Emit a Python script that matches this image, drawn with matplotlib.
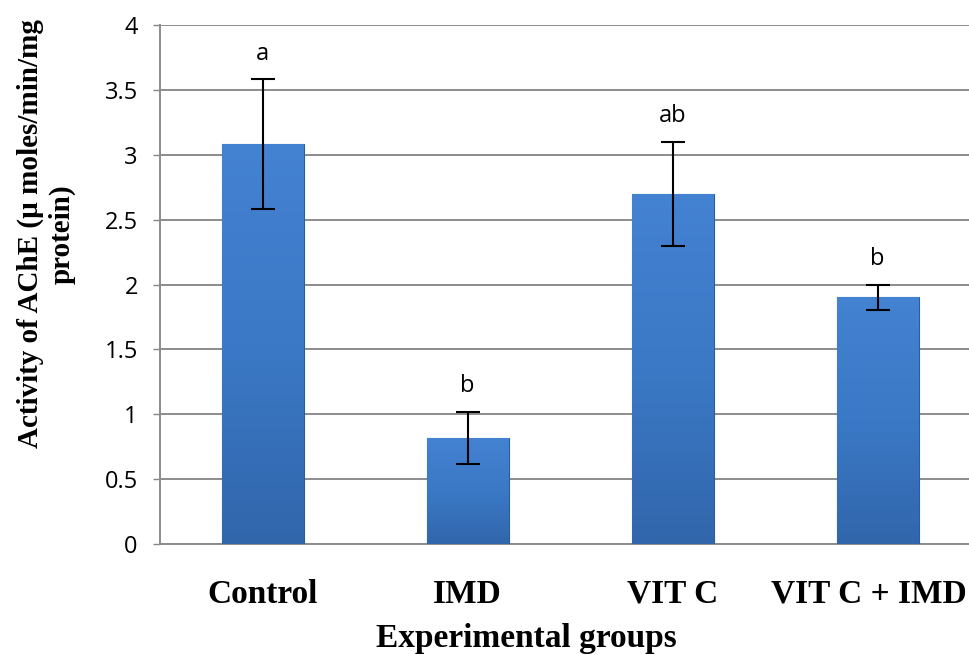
import numpy as np
import matplotlib
matplotlib.use('Agg')
import matplotlib.pyplot as plt
from matplotlib.colors import LinearSegmentedColormap
from matplotlib.transforms import ScaledTranslation

groups = ['Control', 'IMD', 'VIT C', 'VIT C + IMD']
ache = [3.08, 0.82, 2.70, 1.90]
ache_err = [0.50, 0.20, 0.40, 0.10]
letters = ['a', 'b', 'ab', 'b']

fig = plt.figure(figsize=(9.69, 6.55), dpi=100)
ax = fig.add_axes([160 / 969, 111 / 655, 820 / 969, 519 / 655])

x = np.arange(len(groups))
bars = ax.bar(x, ache, width=0.4, color='#3b78c4', edgecolor='#2c5c9a',
              linewidth=0.8, zorder=3)

# vertical gradient on each bar, clipped to the bar shape
cmap = LinearSegmentedColormap.from_list('bluegrad', ['#3166ab', '#3b79c6', '#4482d2'])
grad = np.linspace(0, 1, 256).reshape(-1, 1)
for b in bars:
    x0, y0 = b.get_x(), b.get_y()
    w, h = b.get_width(), b.get_height()
    im = ax.imshow(grad, cmap=cmap, origin='lower', aspect='auto',
                   extent=[x0, x0 + w, y0, y0 + h], zorder=3.5)
    im.set_clip_path(b)

ax.errorbar(x, ache, yerr=ache_err, fmt='none', ecolor='black', elinewidth=1.5,
            capsize=8.5, capthick=1.5, zorder=5)

for xi, v, e, lab in zip(x, ache, ache_err, letters):
    ax.annotate(lab, (xi, v + e), xytext=(0, 10), textcoords='offset points',
                ha='center', va='bottom', fontsize=17, family='Open Sans')

ax.set_xlim(-0.5, 3.5)
ax.set_ylim(0, 4)
ax.set_yticks(np.arange(0, 4.01, 0.5))
ax.set_yticklabels(['0', '0.5', '1', '1.5', '2', '2.5', '3', '3.5', '4'],
                   fontsize=17, family='Open Sans')
ax.tick_params(axis='y', length=5, width=1, color='#868686', pad=11)
ax.set_xticks(x)
ax.set_xticklabels(groups, fontsize=24, fontweight='bold', family='Liberation Serif')
ax.tick_params(axis='x', length=0, pad=25)
# last label is pushed left so it fits inside the figure, as in the original
last = ax.get_xticklabels()[-1]
last.set_transform(last.get_transform() + ScaledTranslation(-9 / 100, 0, fig.dpi_scale_trans))

ax.grid(axis='y', color='#8c8c8c', linewidth=1.4, zorder=0)
ax.set_axisbelow(True)
for s in ['top', 'right']:
    ax.spines[s].set_visible(False)
for s in ['left', 'bottom']:
    ax.spines[s].set_color('#8c8c8c')
    ax.spines[s].set_linewidth(1.4)

fig.text(526 / 969, 1 - 639 / 655, 'Experimental groups', ha='center', va='center',
         fontsize=24, fontweight='bold', family='Liberation Serif')
fig.text(46 / 969, 1 - 234 / 655, 'Activity of AChE (µ moles/min/mg\nprotein)',
         rotation=90, ha='center', va='center', multialignment='center',
         fontsize=21, fontweight='bold', family='Liberation Serif', linespacing=1.2)

fig.savefig('out.png', dpi=100)
